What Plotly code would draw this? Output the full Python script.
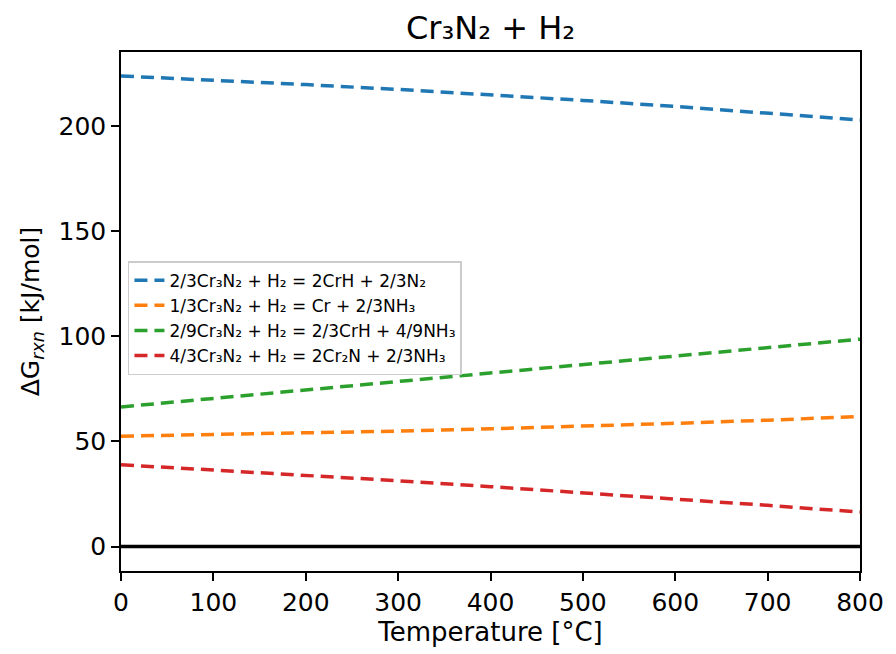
import plotly.graph_objects as go

temperature = [0, 100, 200, 300, 400, 500, 600, 700, 800]
dg_crh_n2 = [223.7, 221.8, 219.6, 217.3, 214.8, 212.1, 209.2, 206.1, 202.8]
dg_cr_nh3 = [52.5, 53.2, 54.0, 54.9, 56.0, 57.2, 58.6, 60.1, 61.8]
dg_crh_nh3 = [66.4, 70.4, 74.4, 78.5, 82.5, 86.5, 90.6, 94.6, 98.6]
dg_cr2n_nh3 = [38.9, 36.5, 33.9, 31.3, 28.5, 25.6, 22.7, 19.6, 16.4]
zero_line = [0, 0, 0, 0, 0, 0, 0, 0, 0]

labels = [
    "2/3Cr₃N₂ + H₂ = 2CrH + 2/3N₂",
    "1/3Cr₃N₂ + H₂ = Cr + 2/3NH₃",
    "2/9Cr₃N₂ + H₂ = 2/3CrH + 4/9NH₃",
    "4/3Cr₃N₂ + H₂ = 2Cr₂N + 2/3NH₃",
]
colors = ["#1f77b4", "#ff7f0e", "#2ca02c", "#d62728"]
series = [dg_crh_n2, dg_cr_nh3, dg_crh_nh3, dg_cr2n_nh3]

fig = go.Figure()
for lab, col, ys in zip(labels, colors, series):
    fig.add_trace(go.Scatter(x=temperature, y=ys, mode="lines", name=lab,
                             line=dict(color=col, width=3.5, dash="13px,7px")))
fig.add_trace(go.Scatter(x=temperature, y=zero_line, mode="lines", showlegend=False,
                         line=dict(color="black", width=3.5)))

font = "DejaVu Sans, sans-serif"
fig.update_layout(
    width=896, height=654,
    margin=dict(l=121, r=29, t=52, b=83),
    paper_bgcolor="white", plot_bgcolor="white",
    font=dict(family=font, color="black", size=25),
    title=dict(text="Cr₃N₂ + H₂", x=0.5, xref="paper", xanchor="center",
               y=1 - 28 / 654, yanchor="middle", font=dict(size=32)),
    showlegend=True,
    legend=dict(x=0.0094, y=0.597, xanchor="left", yanchor="top",
                bgcolor="rgba(255,255,255,0.8)", bordercolor="#cccccc", borderwidth=1.5,
                font=dict(size=17), tracegroupgap=0, itemwidth=30),
    xaxis=dict(range=[0, 800], tickvals=[0, 100, 200, 300, 400, 500, 600, 700, 800],
               ticks="outside", ticklen=8, tickwidth=1.5, tickcolor="black",
               showline=True, linecolor="black", linewidth=1.5, mirror=True,
               showgrid=False, zeroline=False,
               title=dict(text="Temperature [°C]", standoff=6, font=dict(size=26)),
               tickfont=dict(size=25)),
    yaxis=dict(range=[-11.6, 235.1], tickvals=[0, 50, 100, 150, 200],
               ticks="outside", ticklen=8, tickwidth=1.5, tickcolor="black",
               showline=True, linecolor="black", linewidth=1.5, mirror=True,
               showgrid=False, zeroline=False,
               title=dict(text="ΔG<sub><i>rxn</i></sub> [kJ/mol]", standoff=12, font=dict(size=25)),
               tickfont=dict(size=25)),
)
fig.write_html("out.html", config={"displayModeBar": False},
               post_script="document.body.style.margin='0';document.body.style.overflow='hidden';")
